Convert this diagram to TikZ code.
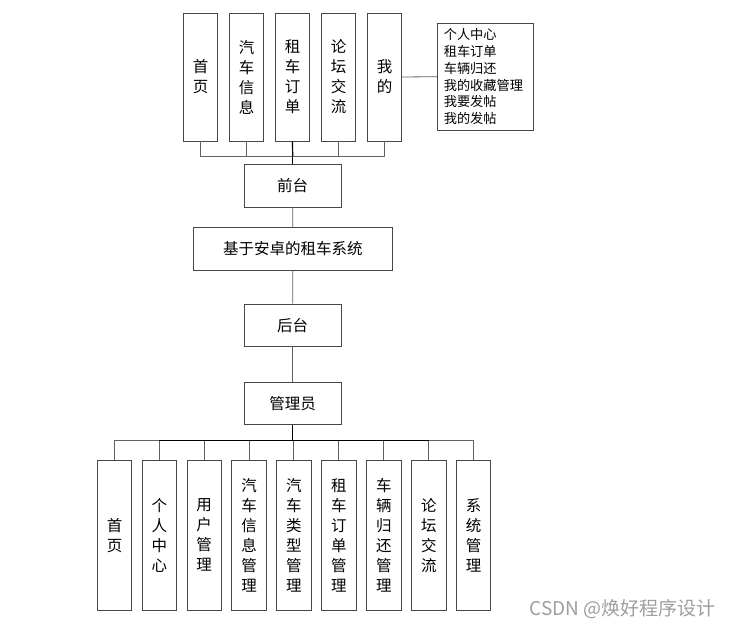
\documentclass[tikz,border=0pt]{standalone}
\usepackage{fontspec}
\setmainfont{Noto Sans CJK SC}
\begin{document}
\begin{tikzpicture}[x=1pt,y=-1pt,
  box/.style={draw=black!72, line width=0.8pt, fill=white, inner sep=0pt,
    font=\fontsize{15.5}{20}\selectfont, align=center},
  vbox/.style={box, minimum width=34pt, minimum height=128pt},
  bvbox/.style={box, minimum width=34.5pt, minimum height=149.7pt},
  hbox/.style={box, minimum width=96.7pt, minimum height=42.5pt},
  conn/.style={draw=black!62, line width=0.8pt},
  trunk/.style={draw=black, line width=1.2pt}]
\useasboundingbox (0,0) rectangle (729,629);

% top menu
\node[vbox] (t1) at (200.5,77) {首\\页};
\node[vbox] (t2) at (246.5,77) {汽\\车\\信\\息};
\node[vbox] (t3) at (292.5,77) {租\\车\\订\\单};
\node[vbox] (t4) at (338.5,77) {论\\坛\\交\\流};
\node[vbox] (t5) at (384.5,77) {我\\的};
\node[box, minimum width=96pt, minimum height=107pt, text width=83pt, inner xsep=6.5pt,
  align=left, font=\fontsize{13.2}{16.7}\selectfont] (lst) at (485.3,76.7)
  {个人中心\\租车订单\\车辆归还\\我的收藏管理\\我要发帖\\我的发帖};

% middle
\node[hbox] (qt) at (292.7,185.7) {前台};
\node[box, minimum width=199pt, minimum height=43pt] (sys) at (292.8,248.8) {基于安卓的租车系统};
\node[hbox] (ht) at (292.7,325.2) {后台};
\node[hbox] (gly) at (292.7,403.5) {管理员};

% bottom menu
\node[bvbox] (b1) at (114.5,535.2) {首\\页};
\node[bvbox] (b2) at (159.4,535.2) {个\\人\\中\\心};
\node[bvbox] (b3) at (204.2,535.2) {用\\户\\管\\理};
\node[bvbox] (b4) at (249.0,535.2) {汽\\车\\信\\息\\管\\理};
\node[bvbox] (b5) at (293.8,535.2) {汽\\车\\类\\型\\管\\理};
\node[bvbox] (b6) at (338.8,535.2) {租\\车\\订\\单\\管\\理};
\node[bvbox] (b7) at (383.8,535.2) {车\\辆\\归\\还\\管\\理};
\node[bvbox] (b8) at (428.8,535.2) {论\\坛\\交\\流};
\node[bvbox] (b9) at (473.5,535.2) {系\\统\\管\\理};

% connectors top
\coordinate (tb) at (292.7,156);
\foreach \i in {1,...,5} { \draw[conn] (t\i.south) |- (tb); }
\draw[trunk] (t3.south) -- (tb);
\draw[trunk] (tb) -- (qt.north);
\draw[conn] (t5.east) -- (lst.west);

% middle connectors
\draw[conn] (qt.south) -- (sys.north);
\draw[conn] (sys.south) -- (ht.north);
\draw[conn] (ht.south) -- (gly.north);

% bottom connectors
\coordinate (bb) at (292.7,440.7);
\foreach \i in {1,...,9} { \draw[conn] (b\i.north) |- (bb); }
\draw[trunk] (gly.south) -- (bb);
\draw[trunk] (b2.north |- bb) -- (b8.north |- bb);

% watermark
\node[text=black!38, font=\fontsize{19}{22}\selectfont, anchor=east, inner sep=0pt] (wm) at (716,609) {CSDN @焕好程序设计};
\end{tikzpicture}
\end{document}
